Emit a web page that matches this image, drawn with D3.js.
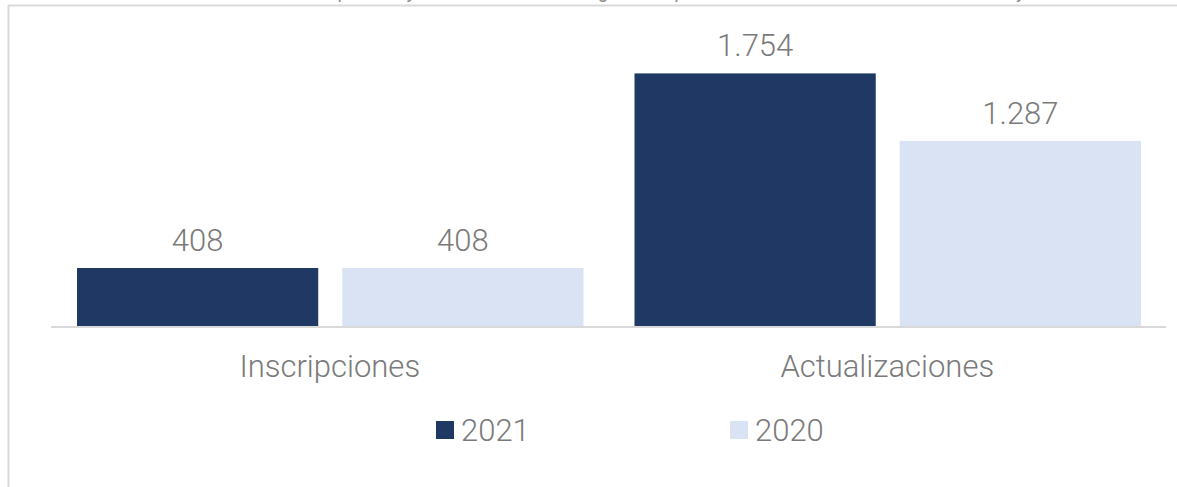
<!DOCTYPE html>
<html>
<head>
<meta charset="utf-8">
<script src="https://cdn.jsdelivr.net/npm/d3@7"></script>
<style>
  html, body { margin: 0; padding: 0; background: #fff; }
  svg { display: block; }
  text { font-family: "Roboto", "Lato", "Open Sans", "DejaVu Sans", sans-serif; }
</style>
</head>
<body>
<svg id="chart" width="1177" height="487"></svg>
<script>
const categories = ["Inscripciones", "Actualizaciones"];
const seriesNames = ["2021", "2020"];
const values2021 = [408, 1754];
const values2020 = [408, 1287];
const seriesColors = ["#203864", "#dae3f3"];
const valueLabels2021 = ["408", "1.754"];
const valueLabels2020 = ["408", "1.287"];
const titleText = "Ilustración 1: Inscripciones y actualizaciones del registro de proveedores del Estado en los años 2020 y 2021";

const W = 1177, H = 487;
const svg = d3.select("#chart");
const txtCol = "#7a7a7a";

// frame
svg.append("line").attr("x1", 8).attr("x2", W).attr("y1", 5.5).attr("y2", 5.5)
  .attr("stroke", "#d9d9d9").attr("stroke-width", 2);
svg.append("line").attr("x1", 8.5).attr("x2", 8.5).attr("y1", 5).attr("y2", H)
  .attr("stroke", "#d9d9d9").attr("stroke-width", 2);

// cut-off title above the frame (only its lowest pixels are visible, as in the reference)
svg.append("text").attr("x", 628).attr("y", -2.5).attr("text-anchor", "middle")
  .attr("font-size", 19).attr("font-style", "italic").attr("fill", "#8c8c8c")
  .text(titleText);

const plotLeft = 51, plotRight = 1166, baseY = 327;
const x0 = d3.scaleBand().domain(categories).range([plotLeft, plotRight]).paddingInner(0).paddingOuter(0);
const bw = x0.bandwidth();
const x1 = d3.scaleBand().domain(seriesNames).range([26, bw - 25]).paddingInner(24 / 265).paddingOuter(0);
const y = d3.scaleLinear().domain([0, 1754]).range([baseY, 73.4]);

const data = categories.map((c, i) => ({
  cat: c,
  vals: [
    { s: "2021", v: values2021[i], lab: valueLabels2021[i], col: seriesColors[0] },
    { s: "2020", v: values2020[i], lab: valueLabels2020[i], col: seriesColors[1] }
  ]
}));

const groups = svg.selectAll("g.cat").data(data).enter().append("g")
  .attr("transform", d => `translate(${x0(d.cat)},0)`);

groups.selectAll("rect").data(d => d.vals).enter().append("rect")
  .attr("x", d => x1(d.s)).attr("width", x1.bandwidth())
  .attr("y", d => y(d.v)).attr("height", d => baseY - y(d.v))
  .attr("fill", d => d.col);

groups.selectAll("text.val").data(d => d.vals).enter().append("text")
  .attr("class", "val")
  .attr("x", d => x1(d.s) + x1.bandwidth() / 2)
  .attr("y", d => y(d.v) - 17)
  .attr("text-anchor", "middle").attr("font-size", 31).attr("font-weight", 300)
  .attr("fill", txtCol).text(d => d.lab);

// axis
const xAxis = d3.axisBottom(x0).tickSize(0).tickPadding(28);
const ax = svg.append("g").attr("transform", `translate(0,${baseY})`).call(xAxis);
ax.select(".domain").attr("stroke", "#d9d9d9").attr("stroke-width", 2)
  .attr("d", `M${plotLeft},0H${plotRight}`);
ax.selectAll("text").attr("font-size", 31).attr("font-weight", 300).attr("fill", txtCol)
  .attr("font-family", "Roboto, Lato, 'Open Sans', sans-serif").attr("dy", "0.71em");

// legend
const legX = [436, 730];
const leg = svg.selectAll("g.leg").data(seriesNames).enter().append("g")
  .attr("transform", (d, i) => `translate(${legX[i]},421)`);
leg.append("rect").attr("width", 18).attr("height", 18).attr("fill", (d, i) => seriesColors[i]);
leg.append("text").attr("x", 25).attr("y", 19.5).attr("font-size", 31).attr("font-weight", 300)
  .attr("fill", txtCol).text(d => d);
</script>
</body>
</html>
